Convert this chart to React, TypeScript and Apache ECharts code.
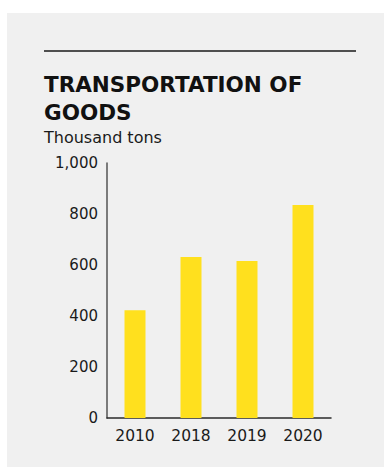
import React, { useEffect, useRef } from "react";
import * as echarts from "echarts";

const categories = ["2010", "2018", "2019", "2020"];
const values = [423, 631, 616, 835];
const yTicks = [0, 200, 400, 600, 800, 1000];

const FONT = "'DejaVu Sans', sans-serif";
const TEXT = "#1a1a1a";

export default function App() {
  const ref = useRef<HTMLDivElement>(null);
  useEffect(() => {
    if (!ref.current) return;
    const chart = echarts.init(ref.current, null, { renderer: "svg" });
    chart.setOption({
      animation: false,
      backgroundColor: "#ffffff",
      graphic: [
        { type: "rect", z: -10, shape: { x: 7, y: 13, width: 377, height: 454 }, style: { fill: "#f0f0f0" } },
        { type: "line", shape: { x1: 44, y1: 51, x2: 356, y2: 51 }, style: { stroke: TEXT, lineWidth: 1.5 } },
        { type: "text", x: 44, y: 73, style: { text: "TRANSPORTATION OF", font: `bold 21.5px ${FONT}`, fill: "#111", verticalAlign: "top" } },
        { type: "text", x: 44, y: 101, style: { text: "GOODS", font: `bold 21.5px ${FONT}`, fill: "#111", verticalAlign: "top" } },
        { type: "text", x: 44, y: 129, style: { text: "Thousand tons", font: `16px ${FONT}`, fill: TEXT, verticalAlign: "top" } },
      ],
      grid: { left: 107, right: 53, top: 163, bottom: 49, containLabel: false },
      xAxis: {
        type: "category",
        data: categories,
        axisLine: { show: true, lineStyle: { color: "#2a2a2a", width: 1.5 } },
        axisTick: { show: false },
        axisLabel: { color: TEXT, fontSize: 15.5, fontFamily: FONT, margin: 10 },
      },
      yAxis: {
        type: "value",
        min: yTicks[0],
        max: yTicks[yTicks.length - 1],
        interval: 200,
        axisLine: { show: true, lineStyle: { color: "#555", width: 1.5 } },
        axisTick: { show: false },
        splitLine: { show: false },
        axisLabel: {
          color: TEXT,
          fontSize: 15,
          fontFamily: FONT,
          margin: 9,
          formatter: (v: number) => v.toLocaleString("en-US"),
        },
      },
      series: [
        {
          type: "bar",
          data: values,
          barWidth: 21,
          itemStyle: { color: "#ffe01e" },
        },
      ],
    });
    return () => chart.dispose();
  }, []);
  return (
    <div
      ref={ref}
      style={{ position: "fixed", left: 0, top: 0, width: 384, height: 467 }}
    />
  );
}
